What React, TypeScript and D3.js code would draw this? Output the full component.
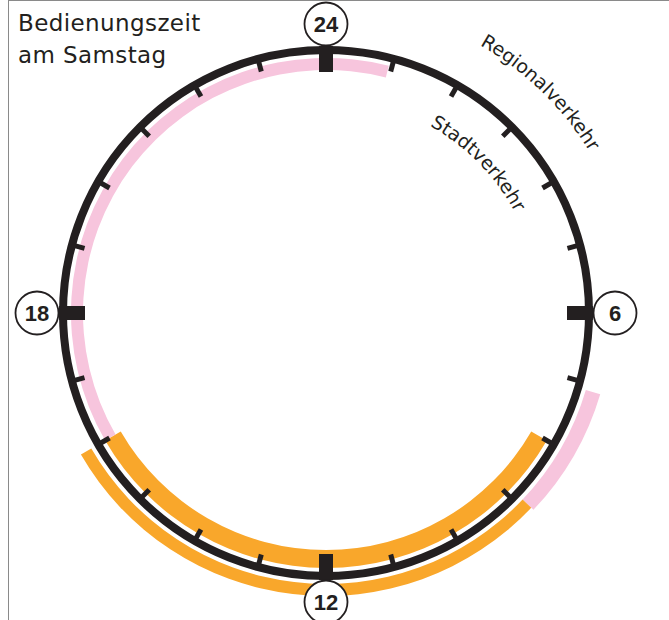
import React from 'react';
import * as d3 from 'd3';

// Bedienungszeit am Samstag – 24h-Uhr mit Stadt- und Regionalverkehr
const majorHours = [0, 6, 12, 18];
const hourLabels = ['24', '6', '12', '18'];

// innerer Ring: Stadtverkehr (von, bis in Stunden)
const stadtverkehrFrom = [8, 16];
const stadtverkehrTo = [16, 24.95];
const stadtverkehrType = ['kern', 'rand'];

// äußerer Ring: Regionalverkehr
const regionalverkehrFrom = [7.1, 8.9];
const regionalverkehrTo = [8.9, 16];
const regionalverkehrType = ['rand', 'kern'];

const typeColor: Record<string, string> = { kern: '#f9a72b', rand: '#f7c5dd' };

const W = 669;
const H = 620;
const cx = 326;
const cy = 313;
const R = 263;
const ink = '#231f20';

const App = () => {
  const angle = d3.scaleLinear().domain([0, 24]).range([0, 2 * Math.PI]);

  const pt = (h: number, r: number) => {
    const a = angle(h);
    return [r * Math.sin(a), -r * Math.cos(a)];
  };

  const arc = d3.arc<any>();

  const inner = stadtverkehrFrom.map((f, i) => ({
    from: f,
    to: stadtverkehrTo[i],
    type: stadtverkehrType[i],
    r0: stadtverkehrType[i] === 'kern' ? 237 : 243,
    r1: 255,
  }));
  const outer = regionalverkehrFrom.map((f, i) => ({
    from: f,
    to: regionalverkehrTo[i],
    type: regionalverkehrType[i],
    r0: 271,
    r1: regionalverkehrType[i] === 'kern' ? 283 : 286,
  }));

  const hours = angle.ticks(24).filter(h => h < 24);
  const minorHours = hours.filter(h => !majorHours.includes(h));

  const textArc = (r: number, midDeg: number, halfDeg: number) => {
    const a0 = ((midDeg - halfDeg) * Math.PI) / 180;
    const a1 = ((midDeg + halfDeg) * Math.PI) / 180;
    const p = d3.path();
    p.arc(0, 0, r, a0 - Math.PI / 2, a1 - Math.PI / 2, false);
    return p.toString();
  };

  return (
    <svg width={W} height={H} style={{ position: 'absolute', left: 0, top: 0 }}>
      <rect x={0} y={0} width={W} height={H} fill="#fff" />
      <line x1={8.5} y1={0} x2={8.5} y2={H} stroke="#8a8a8a" strokeWidth={1} />
      <line x1={8} y1={0.5} x2={W} y2={0.5} stroke="#8a8a8a" strokeWidth={1} />

      <g fontFamily="'DejaVu Sans', sans-serif" fill={ink} fontSize={23} letterSpacing={0.4}>
        <text x={18} y={31}>Bedienungszeit</text>
        <text x={18} y={63}>am Samstag</text>
      </g>

      <g transform={`translate(${cx},${cy})`}>
        <defs>
          <path id="regionalPath" d={textArc(309, 44.2, 40)} />
          <path id="stadtPath" d={textArc(214, 45.5, 40)} />
        </defs>

        {[...inner, ...outer].map((b, i) => (
          <path
            key={i}
            d={arc({
              innerRadius: b.r0,
              outerRadius: b.r1,
              startAngle: angle(b.from),
              endAngle: angle(b.to),
            }) || ''}
            fill={typeColor[b.type]}
          />
        ))}

        <circle r={R} fill="none" stroke={ink} strokeWidth={8} />

        {minorHours.map(h => {
          const [x1, y1] = pt(h, 250);
          const [x2, y2] = pt(h, R);
          return <line key={h} x1={x1} y1={y1} x2={x2} y2={y2} stroke={ink} strokeWidth={5} />;
        })}
        {majorHours.map(h => {
          const [x1, y1] = pt(h, 241);
          const [x2, y2] = pt(h, R + 4);
          return <line key={h} x1={x1} y1={y1} x2={x2} y2={y2} stroke={ink} strokeWidth={14} />;
        })}

        {majorHours.map((h, i) => {
          const [x, y] = pt(h, 289);
          return (
            <g key={h} transform={`translate(${x},${y})`}>
              <circle r={21.5} fill="#fff" stroke={ink} strokeWidth={1.8} />
              <text
                textAnchor="middle"
                y={8}
                fontFamily="'Liberation Sans', Arial, sans-serif"
                fontWeight="bold"
                fontSize={22}
                fill={ink}
              >
                {hourLabels[i]}
              </text>
            </g>
          );
        })}

        <g fontFamily="'DejaVu Sans', sans-serif" fontSize={19} fill={ink}>
          <text>
            <textPath href="#regionalPath" startOffset="50%" textAnchor="middle">
              Regionalverkehr
            </textPath>
          </text>
          <text>
            <textPath href="#stadtPath" startOffset="50%" textAnchor="middle">
              Stadtverkehr
            </textPath>
          </text>
        </g>
      </g>
    </svg>
  );
};

export default App;
